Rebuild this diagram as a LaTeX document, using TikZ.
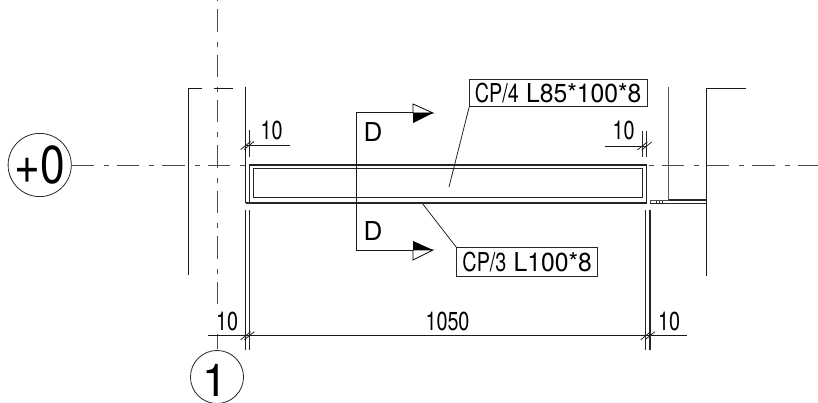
\documentclass[tikz,border=0pt]{standalone}
\usepackage{graphicx}
\usepackage{fontspec}
\setmainfont{TeX Gyre Heros}
\newcommand{\narrow}[1]{\scalebox{.76}[1]{#1}}
\newcommand{\slim}[1]{\scalebox{.95}[1]{#1}}
\tikzset{
  ln/.style={line width=.75pt,black!90},
  thin ln/.style={line width=.6pt,black!85},
  thick ln/.style={line width=1.2pt,black!85},
  gridaxis/.style={line width=.75pt,black!70,dash pattern=on 16.9pt off 7.5pt on 3.75pt off 5.9pt},
  dimtext/.style={inner sep=0pt,anchor=base,font=\fontsize{19.5pt}{19.5pt}\selectfont},
  tagbox/.style={draw,line width=.6pt,black!85,text=black,fill=white,inner sep=0pt,outer sep=0pt,text height=14pt,text depth=0pt,font=\fontsize{19.5pt}{19.5pt}\selectfont},
  bubble/.style={draw,circle,line width=.6pt,black!85,text=black,inner sep=0pt,outer sep=0pt},
  halfhead/.style={line width=.6pt,draw=black,fill=white},
}
\begin{document}
\begin{tikzpicture}[x=0.75pt,y=-0.75pt]
\useasboundingbox (0,0) rectangle (818,403);
% grid bubbles
\node[bubble,minimum size=47.4pt] (row) at (39.7,165) {};
\node[bubble,minimum size=39.8pt] (col) at (217,377) {};
\node[inner sep=0pt,anchor=center,font=\fontsize{40pt}{40pt}\selectfont] (rowtext) at (40,165) {\scalebox{.83}[1]{+0}};
\node[inner sep=0pt,anchor=center,font=\fontsize{34pt}{34pt}\selectfont] (coltext) at (215,380) {1};
% grid axes
\coordinate (axisR) at (818,165);
\coordinate (axisT) at (217,0);
\draw[gridaxis] (row.east) -- (axisR);
\draw[gridaxis,dash phase=27.2pt] (axisT) -- (col.north);
% left dashed column
\coordinate (colTL) at (188.7,89);
\draw[ln] (188.7,275) -- (colTL) -- (202,89);
\draw[ln] (214,89) -- (233,89);
% mask label 10 at lower left
\node[dimtext,fill=white,inner xsep=4pt,inner ysep=3pt] (d10a) at (227,330) {\narrow{10}};
% main verticals left
\draw[ln] (245.7,87) -- (245.7,203);
\draw[ln] (245.7,210) -- (245.7,350);
\draw[thin ln] (249,130) -- (249,157);
\draw[thin ln] (249,165) -- (249,203);
\draw[thick ln] (249.3,210) -- (249.3,350);
% beam
\draw[line width=1pt,black!85] (249,165) -- (646.5,165);
\draw[thin ln] (253,168) rectangle (642.3,197);
\draw[thick ln] (245.7,203) -- (646.5,203);
\draw[thin ln] (646.5,165) -- (646.5,203);
% right verticals
\draw[thin ln] (642.3,131) -- (642.3,157);
\draw[thin ln] (646.7,131) -- (646.7,157);
\draw[thin ln] (645.7,210) -- (645.7,350);
\draw[thick ln] (650,210) -- (650,350);
% right structure
\draw[line width=.9pt,black!65] (668.7,87) -- (668.7,200);
\draw[ln] (745.6,89) -- (706.7,89) -- (706.7,275.7);
\draw[thick ln] (668.7,200) -- (706.7,200);
\draw[thin ln] (650,203) -- (706.7,203);
\draw[line width=.5pt,black!70] (650,203) -- (650,200.8) -- (668.7,200.8);
\foreach \x in {656,659,662} \draw[line width=.7pt,black!80] (\x,200.8) -- (\x,203);
% dimension lines
\draw[ln] (208,335.7) -- (687,335.7);
\draw[ln] (245.7,145.5) -- (290,145.5);
\draw[ln] (605,146) -- (646.7,146);
\foreach \x/\y in {245.7/145.5,249/145.5,642.3/146,646.7/146,245.7/335.7,249.3/335.7,645.7/335.7,650/335.7}
  \draw[thin ln] (\x-5,\y+4) -- (\x+5,\y-4);
% dimension labels
\node[dimtext] (d10b) at (271.5,140) {\narrow{10}};
\node[dimtext] (d10c) at (623.5,140) {\narrow{10}};
\node[dimtext] (d1050) at (447.5,330) {\narrow{1050}};
\node[dimtext] (d10d) at (669,330) {\narrow{10}};
% section marks
\coordinate (cutT) at (413,113);
\coordinate (cutB) at (413,250);
\draw[ln] (cutT) -- (356.7,113) -- (356.7,250) -- (cutB);
\draw[halfhead] (413,104) -- (433,113) -- (413,113) -- cycle;
\fill[black] (413,113) -- (433,113) -- (413,123) -- cycle;
\fill[black] (413,241) -- (433,250) -- (413,250) -- cycle;
\draw[halfhead] (413,250) -- (433,250) -- (413,260) -- cycle;
\node[dimtext] (dT) at (373,141.7) {D};
\node[dimtext] (dB) at (373,240.7) {D};
% tags and leaders
\node[tagbox,minimum width=133.5pt,minimum height=20.8pt] (tag4) at (558.2,93) {\narrow{CP/4} \slim{L85*100*8}};
\node[tagbox,minimum width=105.7pt,minimum height=21.2pt] (tag3) at (527.2,261.9) {\narrow{CP/3} \slim{L100*8}};
\coordinate (lead4) at (449,187);
\coordinate (lead3) at (422,203);
\draw[thin ln] (tag4.south west) -- (lead4);
\draw[thin ln] (tag3.north west) -- (lead3);
\end{tikzpicture}
\end{document}
